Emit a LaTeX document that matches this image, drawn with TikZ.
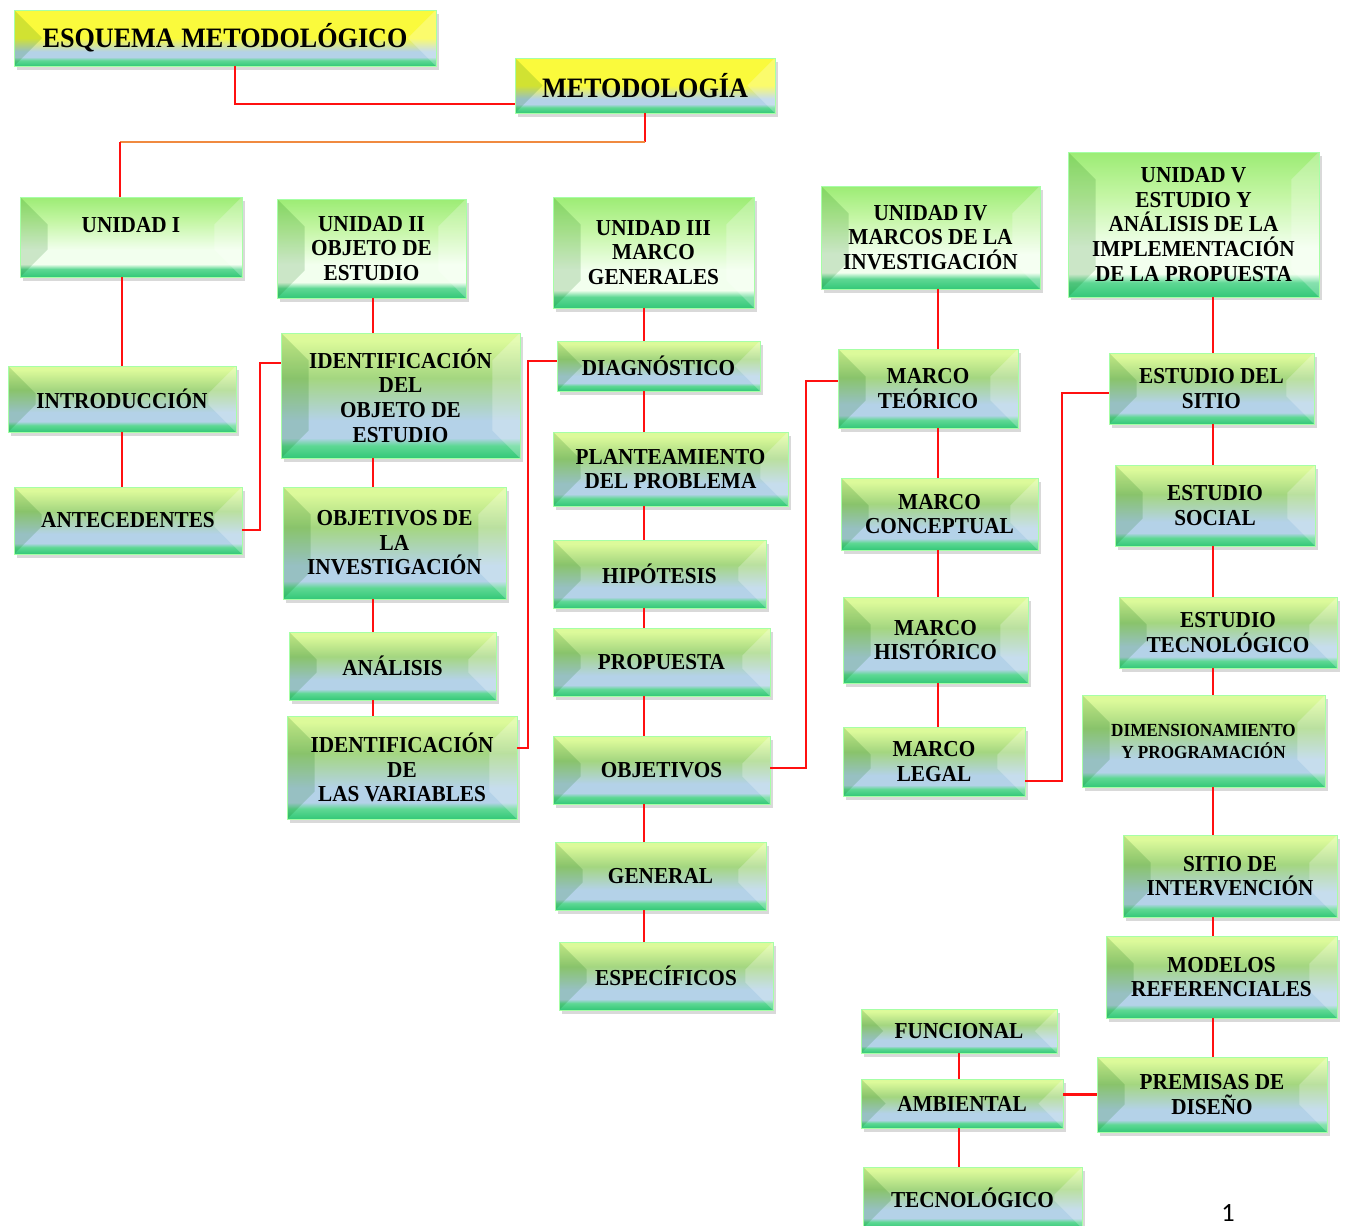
\documentclass[tikz,border=0pt]{standalone}
\usepackage{fontspec}
\setmainfont{Liberation Serif}[FakeStretch=0.93]
\newfontfamily\pagefont{Carlito}
\usepackage{tikz}
\usetikzlibrary{calc}
\usetikzlibrary{shadows}

\definecolor{bandgreen}{HTML}{34C878}
\definecolor{bandlight}{HTML}{5ED894}
\definecolor{paleblue}{HTML}{B4D2E8}
\definecolor{midgreen}{HTML}{A4D680}
\definecolor{topgreen}{HTML}{DCFA9A}
\definecolor{unitwhite}{HTML}{F2FFEE}
\definecolor{unitmid}{HTML}{C4F6A4}
\definecolor{unittop}{HTML}{9CEC74}
\definecolor{titleyellow}{HTML}{FAFA3C}
\definecolor{linkred}{HTML}{FF1010}
\definecolor{linkorange}{HTML}{F08A40}

\pgfdeclareverticalshading{boxshade}{100bp}{color(0bp)=(bandgreen); color(25bp)=(bandgreen); color(30bp)=(bandlight); color(33bp)=(paleblue); color(40bp)=(paleblue); color(57bp)=(midgreen); color(72bp)=(topgreen); color(100bp)=(topgreen)}
\pgfdeclareverticalshading{unitshade}{100bp}{color(0bp)=(bandgreen); color(25bp)=(bandgreen); color(30bp)=(bandlight); color(33bp)=(unitwhite); color(42bp)=(unitwhite); color(60bp)=(unitmid); color(75bp)=(unittop); color(100bp)=(unittop)}
\pgfdeclareverticalshading{titleshade}{100bp}{color(0bp)=(bandgreen); color(25bp)=(bandgreen); color(30bp)=(bandlight); color(33bp)=(paleblue); color(38bp)=(paleblue); color(50bp)=(titleyellow); color(100bp)=(titleyellow)}

\tikzset{
  bevel/.style={path picture={
      \fill[black!60!green, fill opacity=.16] let \p1=(path picture bounding box.north east), \p2=(path picture bounding box.south west), \n1={min(0.55cm,(\y1-\y2)/2)} in
        (\x2,\y1) -- (\x2+\n1,\y1-\n1) -- (\x2+\n1,\y2+\n1) -- (\x2,\y2) -- cycle;
      \fill[white, fill opacity=.25] let \p1=(path picture bounding box.north east), \p2=(path picture bounding box.south west), \n1={min(0.55cm,(\y1-\y2)/2)} in
        (\x1,\y1) -- (\x1-\n1,\y1-\n1) -- (\x1-\n1,\y2+\n1) -- (\x1,\y2) -- cycle;
  }},
  box/.style={shade, shading=boxshade, draw=green!35!white, line width=0.4pt, bevel,
    drop shadow={shadow xshift=1.5pt, shadow yshift=-2pt, opacity=.3},
    align=center, inner sep=0pt, font=\bfseries\fontsize{13}{14}\selectfont},
  unitbox/.style={box, shading=unitshade},
  titlebox/.style={box, shading=titleshade, font=\bfseries\fontsize{16}{18}\selectfont},
  link/.style={draw=linkred, line width=0.7pt},
  sidelink/.style={draw=linkred, line width=1.2pt},
}

\begin{document}
\begin{tikzpicture}[x=0.02cm, y=-0.02cm]
\useasboundingbox (0,0) rectangle (1346,1226);

% Titles
\node[titlebox, minimum width=8.44cm, minimum height=1.12cm] (esquema) at (225,38) {ESQUEMA METODOLÓGICO};
\node[titlebox, minimum width=5.2cm, minimum height=1.1cm] (metod) at (645,85.5) {METODOLOGÍA};

% Units
\node[unitbox, minimum width=4.44cm, minimum height=1.6cm, text depth=0.48cm] (unidadI) at (131,237) {UNIDAD I};
\node[unitbox, minimum width=3.78cm, minimum height=1.98cm] (unidadII) at (371.5,248.5) {UNIDAD II\\OBJETO DE\\ESTUDIO};
\node[unitbox, minimum width=4.02cm, minimum height=2.22cm] (unidadIII) at (653.5,252.5) {UNIDAD III\\MARCO\\GENERALES};
\node[unitbox, minimum width=4.38cm, minimum height=2.06cm] (unidadIV) at (930.5,237.5) {UNIDAD IV\\MARCOS DE LA\\INVESTIGACIÓN};
\node[unitbox, minimum width=5.02cm, minimum height=2.9cm] (unidadV) at (1193.5,224.5) {UNIDAD V\\ESTUDIO Y\\ANÁLISIS DE LA\\IMPLEMENTACIÓN\\DE LA PROPUESTA};

% Column I
\node[box, minimum width=4.56cm, minimum height=1.32cm] (intro) at (122,399) {INTRODUCCIÓN};
\node[box, minimum width=4.56cm, minimum height=1.34cm] (ant) at (128,520.5) {ANTECEDENTES};

% Column II
\node[box, minimum width=4.78cm, minimum height=2.5cm] (identdel) at (400.5,395.5) {IDENTIFICACIÓN\\DEL\\OBJETO DE\\ESTUDIO};
\node[box, minimum width=4.46cm, minimum height=2.24cm] (objinv) at (394.5,543) {OBJETIVOS DE\\LA\\INVESTIGACIÓN};
\node[box, minimum width=4.14cm, minimum height=1.36cm] (analisis) at (392.5,666) {ANÁLISIS};
\node[box, minimum width=4.6cm, minimum height=2.06cm] (identvar) at (402,767.5) {IDENTIFICACIÓN\\DE\\LAS VARIABLES};

% Column III
\node[box, minimum width=4.06cm, minimum height=1cm] (diag) at (658.5,366) {DIAGNÓSTICO};
\node[box, minimum width=4.7cm, minimum height=1.48cm] (plant) at (670.5,469) {PLANTEAMIENTO\\DEL PROBLEMA};
\node[box, minimum width=4.26cm, minimum height=1.36cm] (hipo) at (659.5,574) {HIPÓTESIS};
\node[box, minimum width=4.34cm, minimum height=1.36cm] (prop) at (661.5,662) {PROPUESTA};
\node[box, minimum width=4.34cm, minimum height=1.36cm] (obj) at (661.5,770) {OBJETIVOS};
\node[box, minimum width=4.22cm, minimum height=1.36cm] (gen) at (660.5,876) {GENERAL};
\node[box, minimum width=4.28cm, minimum height=1.36cm] (esp) at (666,976) {ESPECÍFICOS};

% Column IV
\node[box, minimum width=3.6cm, minimum height=1.58cm] (teor) at (928,388.5) {MARCO\\TEÓRICO};
\node[box, minimum width=3.94cm, minimum height=1.44cm] (conc) at (939.5,514) {MARCO\\CONCEPTUAL};
\node[box, minimum width=3.7cm, minimum height=1.72cm] (hist) at (935.5,640) {MARCO\\HISTÓRICO};
\node[box, minimum width=3.64cm, minimum height=1.38cm] (legal) at (934,761.5) {MARCO\\LEGAL};

% Column V
\node[box, minimum width=4.1cm, minimum height=1.42cm] (sitio) at (1211.5,388.5) {ESTUDIO DEL\\SITIO};
\node[box, minimum width=4cm, minimum height=1.62cm] (social) at (1215,505.5) {ESTUDIO\\SOCIAL};
\node[box, minimum width=4.36cm, minimum height=1.42cm] (tecno) at (1228,632.5) {ESTUDIO\\TECNOLÓGICO};
\node[box, minimum width=4.86cm, minimum height=1.84cm, font=\bfseries\fontsize{10.5}{12.5}\selectfont] (dimen) at (1203.5,741) {DIMENSIONAMIENTO\\Y PROGRAMACIÓN};
\node[box, minimum width=4.28cm, minimum height=1.64cm] (interv) at (1230,876) {SITIO DE\\INTERVENCIÓN};
\node[box, minimum width=4.62cm, minimum height=1.64cm] (modelos) at (1221.5,977) {MODELOS\\REFERENCIALES};
\node[box, minimum width=4.6cm, minimum height=1.5cm] (premisas) at (1212,1094.5) {PREMISAS DE\\DISEÑO};
\node[box, minimum width=3.92cm, minimum height=0.88cm] (func) at (959,1031) {FUNCIONAL};
\node[box, minimum width=4.04cm, minimum height=0.98cm] (amb) at (962,1103.5) {AMBIENTAL};
\node[box, minimum width=4.38cm, minimum height=1.22cm] (tecn) at (972.5,1197.5) {TECNOLÓGICO};

% Page number
\node[font=\pagefont\fontsize{15}{16}\selectfont, inner sep=0pt, anchor=base] (pagenum) at (1228,1221) {1};

% Links
\coordinate (split) at (120,142);
\coordinate (colb) at (373,0);
\coordinate (colc) at (644,0);
\coordinate (cold) at (938,0);
\coordinate (cole) at (1213,0);
\draw[link] ([xshift=0.2cm]esquema.south) |- ([yshift=-0.37cm]metod.west);
\draw[link] (metod.south) -- (metod.south |- split);
\draw[link, draw=linkorange] (metod.south |- split) -- (split);
\draw[link] (split) -- (split |- unidadI.north);

\draw[link] (intro.north |- unidadI.south) -- (intro.north);
\draw[link] (intro.south) -- (intro.south |- ant.north);

\draw[link] (colb |- unidadII.south) -- (colb |- identdel.north);
\draw[link] (colb |- identdel.south) -- (colb |- objinv.north);
\draw[link] (colb |- objinv.south) -- (colb |- analisis.north);
\draw[link] (colb |- analisis.south) -- (colb |- identvar.north);

\draw[link] (colc |- unidadIII.south) -- (colc |- diag.north);
\draw[link] (colc |- diag.south) -- (colc |- plant.north);
\draw[link] (colc |- plant.south) -- (colc |- hipo.north);
\draw[link] (colc |- hipo.south) -- (colc |- prop.north);
\draw[link] (colc |- prop.south) -- (colc |- obj.north);
\draw[link] (colc |- obj.south) -- (colc |- gen.north);
\draw[link] (colc |- gen.south) -- (colc |- esp.north);

\draw[link] (cold |- unidadIV.south) -- (cold |- teor.north);
\draw[link] (cold |- teor.south) -- (cold |- conc.north);
\draw[link] (cold |- conc.south) -- (cold |- hist.north);
\draw[link] (cold |- hist.south) -- (cold |- legal.north);

\draw[link] (cole |- unidadV.south) -- (cole |- sitio.north);
\draw[link] (cole |- sitio.south) -- (cole |- social.north);
\draw[link] (cole |- social.south) -- (cole |- tecno.north);
\draw[link] (cole |- tecno.south) -- (cole |- dimen.north);
\draw[link] (cole |- dimen.south) -- (cole |- interv.north);
\draw[link] (cole |- interv.south) -- (cole |- modelos.north);
\draw[link] (cole |- modelos.south) -- (cole |- premisas.north);

\draw[sidelink] ([yshift=-0.19cm]ant.east) -- ++(0.36cm,0) |- ([yshift=0.65cm]identdel.west);
\draw[sidelink] ([yshift=0.39cm]identvar.east) -- ++(0.22cm,0) |- ([yshift=0.1cm]diag.west);
\draw[sidelink] ([yshift=0.04cm]obj.east) -- ++(0.72cm,0) |- ([yshift=0.15cm]teor.west);
\draw[sidelink] ([yshift=-0.39cm]legal.east) -- ++(0.74cm,0) |- ([yshift=-0.09cm]sitio.west);
\draw[sidelink] (premisas.west) -- (premisas.west -| amb.east);
\draw[sidelink] (func.south) -- (func.south |- amb.north);
\draw[sidelink] (func.south |- amb.south) -- (func.south |- tecn.north);
\end{tikzpicture}
\end{document}
